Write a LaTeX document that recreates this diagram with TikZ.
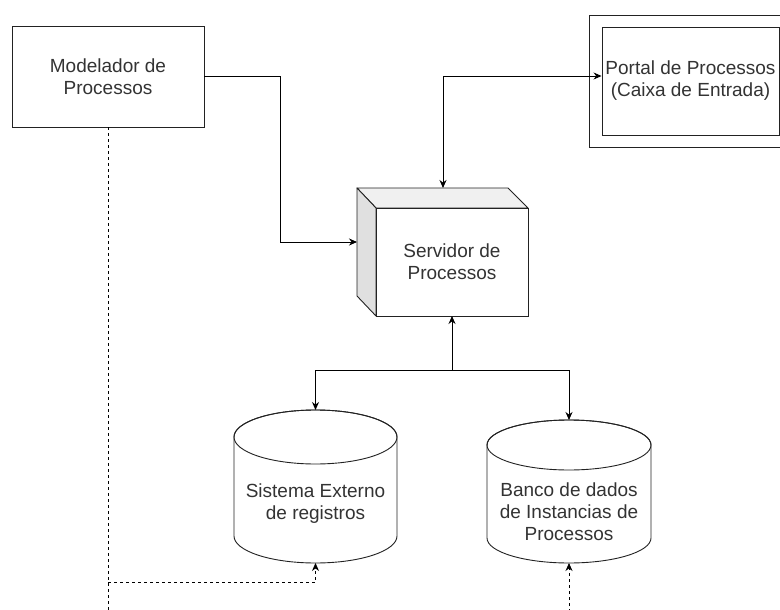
\documentclass[tikz,border=0pt]{standalone}
\usepackage{fontspec}
\setmainfont{Liberation Sans}
\usetikzlibrary{arrows.meta}
\definecolor{txt}{HTML}{333333}
\definecolor{edge}{HTML}{222222}
\definecolor{topf}{HTML}{F0F0F0}
\definecolor{leftf}{HTML}{E0E0E0}
\begin{document}
\begin{tikzpicture}[x=1pt,y=1pt,yscale=-1,
  lbl/.style={text=txt,align=center,font=\fontsize{19}{22}\selectfont,inner sep=0pt},
  boxshape/.style={draw=edge,line width=0.9pt,fill=white,inner sep=0pt},
  conn/.style={draw=black,line width=0.9pt,-{Stealth[length=8pt,width=7pt]}},
  biconn/.style={draw=black,line width=0.9pt,{Stealth[length=8pt,width=7pt]}-{Stealth[length=8pt,width=7pt]}},
  dconn/.style={draw=black,line width=0.8pt,dash pattern=on 3pt off 3pt,-{Stealth[length=8pt,width=7pt]}},
  dline/.style={draw=black,line width=0.8pt,dash pattern=on 3pt off 3pt}]
\useasboundingbox (0,0) rectangle (780,610);
\fill[white] (0,0) rectangle (780,610);

% Modelador
\node[boxshape,minimum width=192pt,minimum height=101pt] (mod) at (108,76.5) {};
\node[lbl] (modt) at (mod.center) {Modelador de\\Processos};

% Portal
\draw[edge,line width=0.9pt] (781,15) -- (589,15) -- (589,147) -- (781,147);
\node[boxshape,minimum width=177pt,minimum height=108pt] (por) at (690.5,81) {};
\node[lbl] (port) at (por.center) {Portal de Processos\\(Caixa de Entrada)};

% Servidor (cube)
\coordinate (srvL) at (357,242);
\coordinate (srvT) at (443,188);
\filldraw[draw=edge,fill=topf,line width=0.9pt,line join=round] (357,188) -- (508,188) -- (528,208) -- (376,208) -- cycle;
\filldraw[draw=edge,fill=leftf,line width=0.9pt,line join=round] (357,188) -- (376,208) -- (376,316) -- (357,296) -- cycle;
\node[boxshape,minimum width=152pt,minimum height=108pt] (srv) at (452,262) {};
\node[lbl] (srvt) at (srv.center) {Servidor de\\Processos};

% Cylinders
\coordinate (c1top) at (315.5,410);
\coordinate (c1bot) at (315.5,563);
\filldraw[draw=edge,fill=white,line width=0.9pt] (234,437) -- (234,536) arc[start angle=180,end angle=0,x radius=81.5pt,y radius=27pt] -- (397,437) arc[start angle=0,end angle=-180,x radius=81.5pt,y radius=27pt] -- cycle;
\draw[edge,line width=0.9pt] (315.5,437) ellipse[x radius=81.5pt,y radius=27pt];
\node[lbl] (cyl1) at (315.5,504) {Sistema Externo\\de registros};

\coordinate (c2top) at (569,420);
\coordinate (c2bot) at (569,563);
\filldraw[draw=edge,fill=white,line width=0.9pt] (487,445) -- (487,538) arc[start angle=180,end angle=0,x radius=82pt,y radius=25pt] -- (651,445) arc[start angle=0,end angle=-180,x radius=82pt,y radius=25pt] -- cycle;
\draw[edge,line width=0.9pt] (569,445) ellipse[x radius=82pt,y radius=25pt];
\node[lbl] (cyl2) at (569,512) {Banco de dados\\de Instancias de\\Processos};

% Connectors
\draw[conn] (mod.east |- 0,76) -- (280,76) -- (280,242) -- (srvL);
\draw[biconn] (srvT) -- (443,76) -- (por.west |- 0,76);
\coordinate (srvB) at (452,316);
\coordinate (split) at (452,370);
\draw[conn] (split) -- (srvB);
\draw[conn] (split) -- (315.5,370) -- (c1top);
\draw[conn] (split) -- (569,370) -- (c2top);

% Dashed
\coordinate (dEnd) at (108,612);
\coordinate (d2Start) at (569,612);
\draw[dline] (mod.south) -- (dEnd);
\draw[dconn] (108,582) -- (315.5,582) -- (c1bot);
\draw[dconn] (d2Start) -- (c2bot);
\end{tikzpicture}
\end{document}
